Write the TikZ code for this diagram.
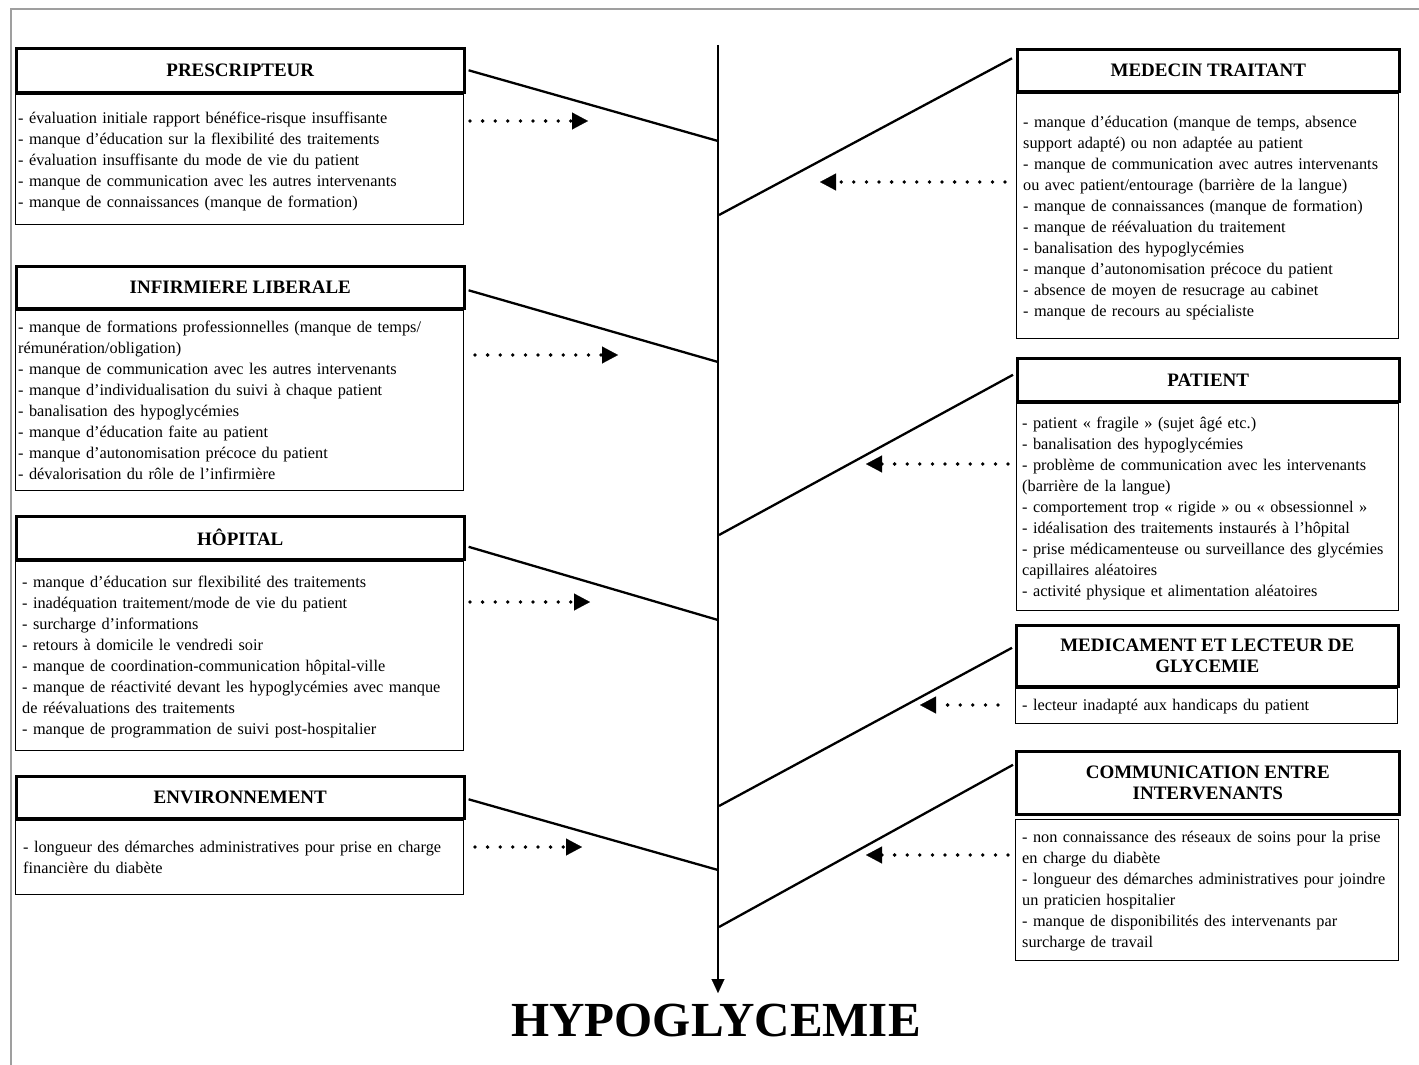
\documentclass[tikz,border=0pt]{standalone}
\usepackage{fontspec}
\setmainfont{Liberation Serif}
\usetikzlibrary{arrows.meta,positioning}

\tikzset{
  titlebox/.style={draw,line width=2.6pt,font=\fontsize{19}{21.5}\selectfont\bfseries,align=center,anchor=north west,inner sep=0pt},
  bodybox/.style={draw,line width=1.2pt,anchor=north west,inner sep=0pt},
  bodytext/.style={font=\fontsize{16.3}{21}\selectfont,align=left,anchor=base west,inner sep=0pt},
  branch/.style={line width=2.3pt},
  spine/.style={line width=2.8pt,-{Triangle[length=14pt,width=13pt,line width=0.1pt]}},
  dots/.style={line width=3.8pt,line cap=round,dash pattern=on 0pt off 12.6pt,-{Triangle[length=16pt,width=17pt,line width=0.1pt]}},
  frame/.style={line width=1.3pt,gray!75}
}

\begin{document}
\begin{tikzpicture}[x=1pt,y=-1pt]
  \useasboundingbox (0,0) rectangle (1419,1065);
  \draw[frame] (11,1065) -- (11,9) -- (1419,9);

  % left side
  \node[titlebox,minimum width=448,minimum height=44] (presT) at (15,47) {PRESCRIPTEUR};
  \node[bodybox,minimum width=448,minimum height=130] (presB) at (presT.south west) {};
  \node[bodytext,text width=440] (presX) at ([shift={(3,30)}]presB.north west) {- évaluation initiale rapport bénéfice-risque insuffisante\\
- manque d’éducation sur la flexibilité des traitements\\
- évaluation insuffisante du mode de vie du patient\\
- manque de communication avec les autres intervenants\\
- manque de connaissances (manque de formation)};

  \node[titlebox,minimum width=448,minimum height=42] (infT) at (15,265) {INFIRMIERE LIBERALE};
  \node[bodybox,minimum width=448,minimum height=180] (infB) at (infT.south west) {};
  \node[bodytext,text width=440] (infX) at ([shift={(3,23)}]infB.north west) {- manque de formations professionnelles (manque de temps/\\
rémunération/obligation)\\
- manque de communication avec les autres intervenants\\
- manque d’individualisation du suivi à chaque patient\\
- banalisation des hypoglycémies\\
- manque d’éducation faite au patient\\
- manque d’autonomisation précoce du patient\\
- dévalorisation du rôle de l’infirmière};

  \node[titlebox,minimum width=448,minimum height=43] (hopT) at (15,515) {HÔPITAL};
  \node[bodybox,minimum width=448,minimum height=189] (hopB) at (hopT.south west) {};
  \node[bodytext,text width=440] (hopX) at ([shift={(7,27)}]hopB.north west) {- manque d’éducation sur flexibilité des traitements\\
- inadéquation traitement/mode de vie du patient\\
- surcharge d’informations\\
- retours à domicile le vendredi soir\\
- manque de coordination-communication hôpital-ville\\
- manque de réactivité devant les hypoglycémies avec manque\\
de réévaluations des traitements\\
- manque de programmation de suivi post-hospitalier};

  \node[titlebox,minimum width=448,minimum height=42] (envT) at (15,775) {ENVIRONNEMENT};
  \node[bodybox,minimum width=448,minimum height=74] (envB) at (envT.south west) {};
  \node[bodytext,text width=440] (envX) at ([shift={(8,33)}]envB.north west) {- longueur des démarches administratives pour prise en charge\\
financière du diabète};

  % right side
  \node[titlebox,minimum width=382,minimum height=42] (medT) at (1016,48) {MEDECIN TRAITANT};
  \node[bodybox,minimum width=382,minimum height=245] (medB) at (medT.south west) {};
  \node[bodytext,text width=372] (medX) at ([shift={(7,35)}]medB.north west) {- manque d’éducation (manque de temps, absence\\
support adapté) ou non adaptée au patient\\
- manque de communication avec autres intervenants\\
ou avec patient/entourage (barrière de la langue)\\
- manque de connaissances (manque de formation)\\
- manque de réévaluation du traitement\\
- banalisation des hypoglycémies\\
- manque d’autonomisation précoce du patient\\
- absence de moyen de resucrage au cabinet\\
- manque de recours au spécialiste};

  \node[titlebox,minimum width=382,minimum height=43] (patT) at (1016,357) {PATIENT};
  \node[bodybox,minimum width=382,minimum height=207] (patB) at (patT.south west) {};
  \node[bodytext,text width=372] (patX) at ([shift={(6,26)}]patB.north west) {- patient « fragile » (sujet âgé etc.)\\
- banalisation des hypoglycémies\\
- problème de communication avec les intervenants\\
(barrière de la langue)\\
- comportement trop « rigide » ou « obsessionnel »\\
- idéalisation des traitements instaurés à l’hôpital\\
- prise médicamenteuse ou surveillance des glycémies\\
capillaires aléatoires\\
- activité physique et alimentation aléatoires};

  \node[titlebox,minimum width=382,minimum height=61] (mdcT) at (1015,624) {MEDICAMENT ET LECTEUR DE\\GLYCEMIE};
  \node[bodybox,minimum width=382,minimum height=35] (mdcB) at (mdcT.south west) {};
  \node[bodytext,text width=372] (mdcX) at ([shift={(7,23)}]mdcB.north west) {- lecteur inadapté aux handicaps du patient};

  \node[titlebox,minimum width=383,minimum height=63] (comT) at (1015,750) {COMMUNICATION ENTRE\\INTERVENANTS};
  \node[bodybox,minimum width=383,minimum height=141] (comB) at ([yshift=-3pt]comT.south west) {};
  \node[bodytext,text width=372] (comX) at ([shift={(7,24)}]comB.north west) {- non connaissance des réseaux de soins pour la prise\\
en charge du diabète\\
- longueur des démarches administratives pour joindre\\
un praticien hospitalier\\
- manque de disponibilités des intervenants par\\
surcharge de travail};

  % spine and result
  \node[font=\fontsize{49}{55}\selectfont\bfseries,anchor=base,inner sep=0pt] (hypo) at (716,1036) {HYPOGLYCEMIE};
  \coordinate (spTop) at (718,45);
  \coordinate (spEnd) at (718,993);
  \draw[spine] (spTop) -- (spEnd);

  % branches
  \coordinate (j1) at (718,141);
  \coordinate (j2) at (719,215);
  \coordinate (j3) at (718,362);
  \coordinate (j4) at (719,535);
  \coordinate (j5) at (718,620);
  \coordinate (j6) at (719,806);
  \coordinate (j7) at (718,870);
  \coordinate (j8) at (719,927);
  \draw[branch] ([xshift=3pt]presT.east) -- (j1);
  \draw[branch] ([shift={(3,3)}]infT.east) -- (j3);
  \draw[branch] ([shift={(3,9)}]hopT.east) -- (j5);
  \draw[branch] ([shift={(3,2)}]envT.east) -- (j7);
  \draw[branch] ([shift={(-4,-12)}]medT.west) -- (j2);
  \draw[branch] ([shift={(-3,-5)}]patT.west) -- (j4);
  \draw[branch] ([shift={(-3,-8)}]mdcT.west) -- (j6);
  \draw[branch] ([shift={(-2,-18)}]comT.west) -- (j8);

  % dotted arrows
  \foreach \n/\xa/\xb/\yy in {pres/470/588/121, inf/475/618/355, hop/470/590/602, env/475/582/847,
      med/1005/820/182, pat/1008/866/464, mdc/998/920/705, com/1008/866/855}{
    \coordinate (\n a) at (\xa,\yy);
    \coordinate (\n b) at (\xb,\yy);
    \draw[dots] (\n a) -- (\n b);
  }
\end{tikzpicture}
\end{document}
